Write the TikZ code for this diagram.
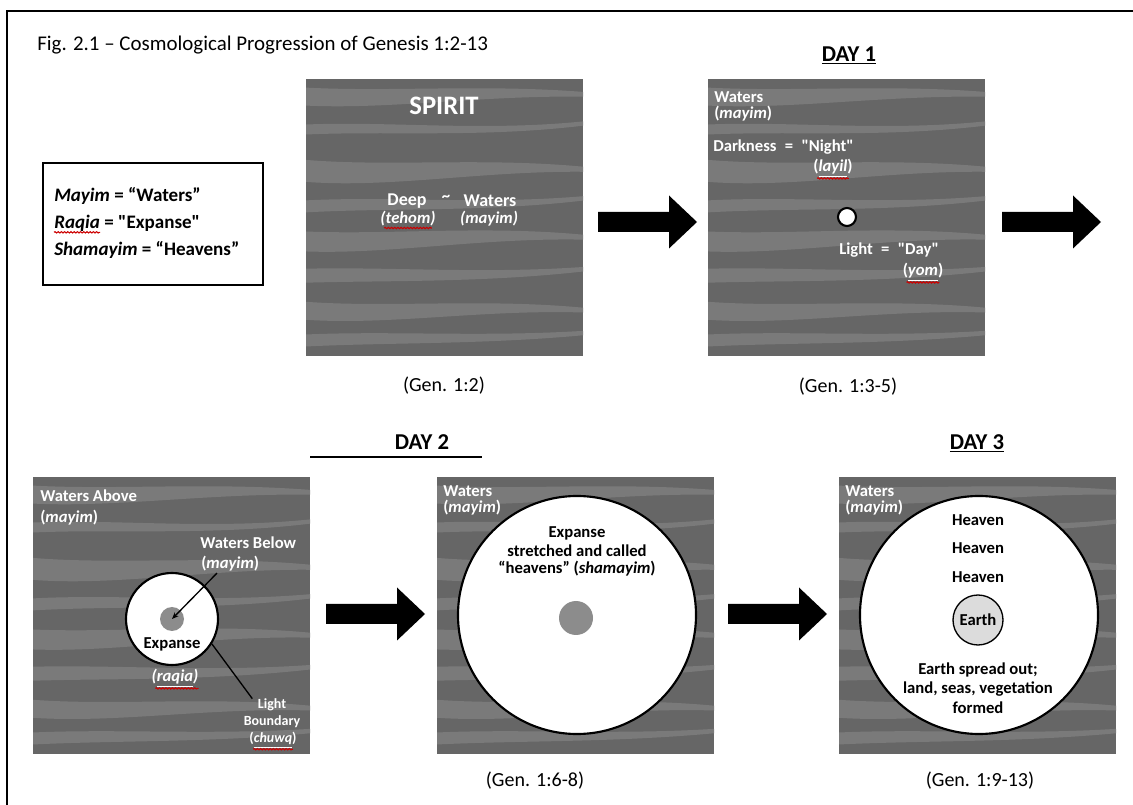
\documentclass[tikz,border=0pt]{standalone}
\usepackage{fontspec}
\setmainfont{Carlito}
\usetikzlibrary{arrows.meta,decorations.pathmorphing}
\definecolor{deepgray}{HTML}{666666}
\definecolor{wavegray}{HTML}{7A7A7A}
\definecolor{dotgray}{HTML}{8C8C8C}
\definecolor{earthgray}{HTML}{DCDCDC}
\tikzset{
  wlabel/.style={text=white, inner sep=0pt, font=\bfseries\fontsize{12.5}{14}\selectfont},
  wital/.style={wlabel, font=\bfseries\itshape\fontsize{12.5}{14}\selectfont},
  blabel/.style={text=black, inner sep=0pt, font=\bfseries\fontsize{12.5}{14}\selectfont},
  tiny/.style={text=white, inner sep=0pt, font=\bfseries\fontsize{10.5}{12}\selectfont},
  legend/.style={inner sep=0pt, anchor=base west, font=\bfseries\fontsize{14.3}{16}\selectfont},
  ref/.style={inner sep=0pt, font=\fontsize{15}{17}\selectfont},
  dayhead/.style={inner sep=0pt, font=\bfseries\fontsize{17}{19}\selectfont},
  globe/.style={circle, draw, fill=white, line width=1.6pt, inner sep=0pt},
  spell/.style={red!80!black, line width=0.8pt, decorate,
    decoration={snake, amplitude=0.5pt, segment length=2.4pt}},
}
\newcommand{\waterpanel}[2]{%
  \begin{scope}[shift={(#1,#2)}]
    \fill[deepgray] (0,0) rectangle (277,277);
    \clip (0,0) rectangle (277,277);
    \foreach \y/\a/\b/\w in {8/6/-4/18, 46/-5/8/10, 80/9/-3/22, 122/-6/5/12,
                             152/5/-7/20, 190/-3/6/14, 222/8/-4/18, 256/-5/3/12}
      \fill[wavegray] (-10,\y) .. controls (80,\y+\a) and (180,\y+\b) .. (290,\y+\a)
        -- (290,\y+\a+4) .. controls (180,\y+\b+0.6*\w) and (80,\y+\a+\w) .. (-10,\y+\w) -- cycle;
  \end{scope}}
\newcommand{\bigarrow}[2]{%
  \fill (#1,#2) ++(0,-10) -- ++(71,0) -- ++(0,-16.5) -- ++(28,26.5)
    -- ++(-28,26.5) -- ++(0,-16.5) -- ++(-71,0) -- cycle;}
\begin{document}
\begin{tikzpicture}[x=0.75pt,y=-0.75pt]
\useasboundingbox (0,0) rectangle (1133,805);
\draw[line width=2pt] (7,805) -- (7,11) -- (1133,11);
\node[anchor=west, inner sep=0pt, font=\fontsize{15.7}{18}\selectfont] (title) at (37,45)
  {Fig. 2.1 -- Cosmological Progression of Genesis 1:2-13};

\draw[line width=1pt] (43,163) rectangle (263,285);
\node[legend] (mayim) at (54,202) {\textit{Mayim} = “Waters”};
\node[legend] (raqia) at (54,229) {\textit{Raqia}};
\node[legend] at ([xshift=3pt]raqia.base east) {= \textquotedbl Expanse\textquotedbl};
\node[legend] (shamayim) at (54,256) {\textit{Shamayim} = “Heavens”};
\draw[spell] ([yshift=-2.5pt]raqia.base west) -- ([yshift=-2.5pt]raqia.base east);

\waterpanel{306}{79}
\node[text=white, inner sep=0pt, font=\bfseries\fontsize{20}{22}\selectfont] (spirit) at (444,106) {SPIRIT};
\node[wlabel, font=\bfseries\fontsize{13.5}{15}\selectfont] (deep) at (407,201) {Deep};
\node[wlabel] (tilde) at (446,198) {\textasciitilde};
\node[wlabel, font=\bfseries\fontsize{13.5}{15}\selectfont] (waters) at (490,201) {Waters};
\node[wital] (tehom) at (408,219) {(tehom)};
\node[wital] (mayimA) at (489,219) {(mayim)};
\draw[spell] ([yshift=-1pt,xshift=3pt]tehom.south west) -- ([yshift=-1pt,xshift=-3pt]tehom.south east);
\node[ref] (gen1) at (444,386) {(Gen. 1:2)};

\bigarrow{598}{222}

\node[dayhead] (day1) at (849,55) {\underline{DAY 1}};
\waterpanel{708}{79}
\node[wlabel, anchor=west] (watersD) at (714,97) {Waters};
\node[wlabel, anchor=west] (mayimD) at (714,114) {({\itshape mayim})};
\node[wlabel, anchor=west] (dark) at (713,147) {Darkness\enspace=\enspace\textquotedbl Night\textquotedbl};
\node[wlabel] (layil) at (833,168) {({\itshape\underline{layil}})};
\draw[spell] ([yshift=-1pt,xshift=3pt]layil.south west) -- ([yshift=-1pt,xshift=-3pt]layil.south east);
\node[globe, minimum size=13.5pt] (lightdot) at (847,217) {};
\node[wlabel, anchor=west] (light) at (839,250) {Light\enspace=\enspace\textquotedbl Day\textquotedbl};
\node[wlabel] (yom) at (923,272) {({\itshape\underline{yom}})};
\draw[spell] ([yshift=-1pt,xshift=3pt]yom.south west) -- ([yshift=-1pt,xshift=-3pt]yom.south east);
\node[ref] (gen2) at (848,387) {(Gen. 1:3-5)};

\bigarrow{1002}{222}

\node[dayhead] (day2) at (422,442) {DAY 2};
\draw[line width=0.8pt] (310,457) -- (482,457);
\waterpanel{33}{477}
\node[wlabel, anchor=west] (above) at (40,496) {Waters Above};
\node[wlabel, anchor=west] (mayimE) at (40,518) {({\itshape mayim})};
\node[wlabel, anchor=west] (below) at (200,543) {Waters Below};
\node[wlabel, anchor=west] (mayimF) at (201,564) {({\itshape mayim})};
\node[globe, minimum size=69pt] (expA) at (172,619) {};
\node[circle, fill=dotgray, inner sep=0pt, minimum size=18pt] (dotA) at (172,619) {};
\node[blabel] (expanse) at (172,644) {Expanse};
\node[wital] (raqiaA) at (175,678) {(\underline{raqia})};
\draw[spell] ([yshift=-1pt,xshift=3pt]raqiaA.south west) -- ([yshift=-1pt]raqiaA.south east);
\node[tiny] (lightB) at (272,705) {Light};
\node[tiny] (bound) at (272,722) {Boundary};
\node[tiny] (chuwq) at (273,740) {({\itshape\underline{chuwq}})};
\draw[spell] ([yshift=-1pt,xshift=3pt]chuwq.south west) -- ([yshift=-1pt,xshift=-3pt]chuwq.south east);
\draw[line width=1pt, -{Stealth[length=5pt,width=4pt]}] ([xshift=12pt,yshift=-1pt]mayimF.south west) -- (dotA.center);
\draw[line width=1pt] (expA.-32) -- ([xshift=-4pt]lightB.north west);

\bigarrow{326}{614}

\waterpanel{437}{477}
\node[wlabel, anchor=west] (watersG) at (443,491) {Waters};
\node[wlabel, anchor=west] (mayimG) at (443,508) {({\itshape mayim})};
\node[globe, minimum size=178.5pt] (expB) at (577,615) {};
\node[circle, fill=dotgray, inner sep=0pt, minimum size=25.5pt] (dotB) at (576,618) {};
\node[blabel] (stretch1) at (577,533) {Expanse};
\node[blabel] (stretch2) at (577,551) {stretched and called};
\node[blabel] (stretch3) at (577,569) {“heavens” ({\itshape shamayim})};
\node[ref] (gen3) at (535,781) {(Gen. 1:6-8)};

\bigarrow{728}{614}

\node[dayhead] (day3) at (977,443) {\underline{DAY 3}};
\waterpanel{839}{477}
\node[wlabel, anchor=west] (watersH) at (845,491) {Waters};
\node[wlabel, anchor=west] (mayimH) at (845,508) {({\itshape mayim})};
\node[globe, minimum size=178.5pt] (expC) at (979,615) {};
\node[blabel] (heaven1) at (978,520) {Heaven};
\node[blabel] (heaven2) at (978,548) {Heaven};
\node[blabel] (heaven3) at (978,577) {Heaven};
\node[circle, draw, line width=1pt, fill=earthgray, inner sep=0pt, minimum size=37.5pt,
  font=\bfseries\fontsize{12.5}{14}\selectfont] (earth) at (978,620) {Earth};
\node[blabel] (spread1) at (978,670) {Earth spread out;};
\node[blabel] (spread2) at (978,689) {land, seas, vegetation};
\node[blabel] (spread3) at (978,708) {formed};
\node[ref] (gen4) at (980,781) {(Gen. 1:9-13)};
\end{tikzpicture}
\end{document}
